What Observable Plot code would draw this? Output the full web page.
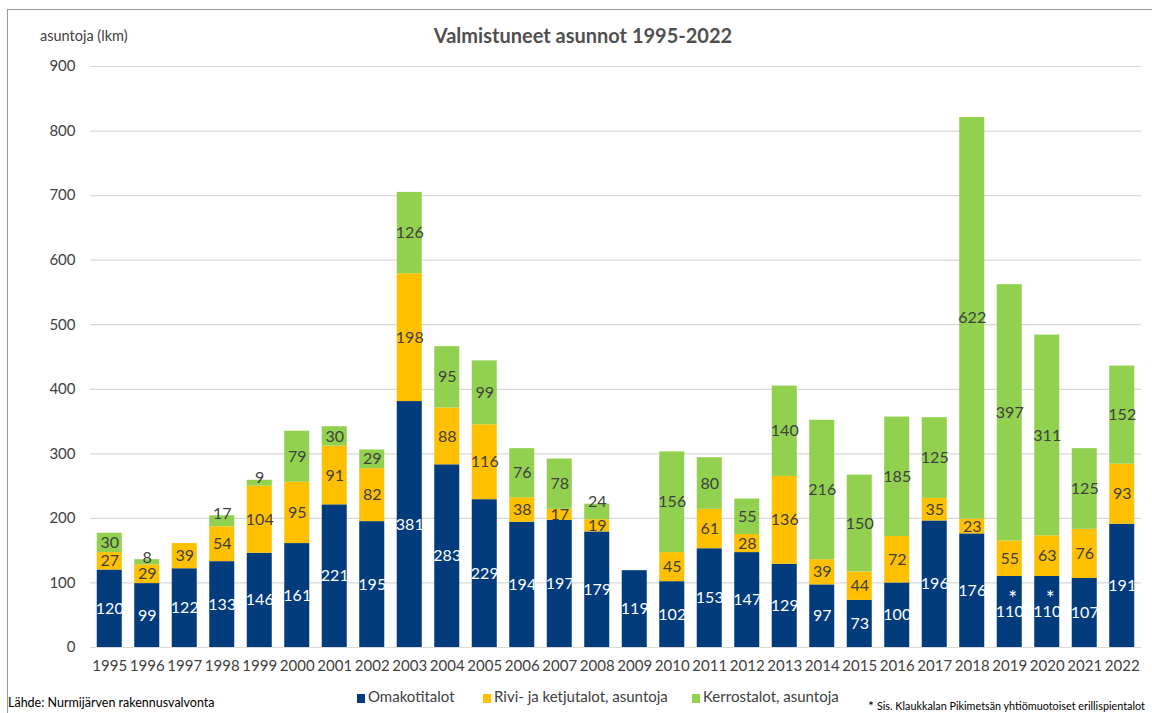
<!DOCTYPE html>
<html><head><meta charset="utf-8">
<script src="https://cdn.jsdelivr.net/npm/d3@7"></script>
<script src="https://cdn.jsdelivr.net/npm/@observablehq/plot@0.6"></script>
<style>
body{margin:0;background:#fff;font-family:Lato,"Open Sans",sans-serif;}
#wrap{position:relative;width:1152px;height:713px;overflow:hidden;background:#fff;}
#frame{position:absolute;left:7px;top:9px;width:1160px;height:720px;border:1px solid #9a9a9a;box-sizing:border-box;}
#chart{position:absolute;left:0;top:0;}
#title{position:absolute;top:23px;left:383px;width:400px;text-align:center;font-weight:bold;font-size:20px;color:#505050;white-space:nowrap;}
#ylab{position:absolute;top:27px;left:40px;font-size:14.5px;color:#404040;white-space:nowrap;}
#legend{position:absolute;top:687px;left:0;width:1152px;font-size:15px;color:#404040;}
.li{position:absolute;white-space:nowrap;}
.sw{display:inline-block;width:8px;height:9px;margin-right:3px;vertical-align:-1px;}
#src{position:absolute;top:695px;left:8px;font-size:12.5px;color:#000;white-space:nowrap;}
#note{position:absolute;top:697px;left:868px;font-size:10.8px;color:#000;white-space:nowrap;}
#note b{font-size:14px;font-weight:normal;vertical-align:-1px;margin-right:3px;}
</style></head>
<body>
<div id="wrap">
  <div id="frame"></div>
  <div id="chart"></div>
  <div id="title">Valmistuneet asunnot 1995-2022</div>
  <div id="ylab">asuntoja (lkm)</div>
  <div id="legend"></div>
  <div id="src">Lähde: Nurmijärven rakennusvalvonta</div>
  <div id="note"><b>*</b>Sis. Klaukkalan Pikimetsän yhtiömuotoiset erillispientalot</div>
</div>
<script>
const years = ["1995","1996","1997","1998","1999","2000","2001","2002","2003","2004","2005","2006","2007","2008","2009","2010","2011","2012","2013","2014","2015","2016","2017","2018","2019","2020","2021","2022"];
const seriesNames = ["Omakotitalot","Rivi- ja ketjutalot, asuntoja","Kerrostalot, asuntoja"];
const omakotitalot = [120,99,122,133,146,161,221,195,381,283,229,194,197,179,119,102,153,147,129,97,73,100,196,176,110,110,107,191];
const rivitalot    = [27,29,39,54,104,95,91,82,198,88,116,38,17,19,0,45,61,28,136,39,44,72,35,23,55,63,76,93];
const kerrostalot  = [30,8,0,17,9,79,30,29,126,95,99,76,78,24,0,156,80,55,140,216,150,185,125,622,397,311,125,152];
const colors = ["#023c7c","#ffc000","#92d050"];
const yTicks = [0,100,200,300,400,500,600,700,800,900];
const starYears = ["2019","2020"];

const seriesValues = [omakotitalot, rivitalot, kerrostalot];
const rows = [];
years.forEach((yr, i) => {
  let base = 0;
  seriesValues.forEach((vals, s) => {
    const v = vals[i];
    rows.push({year: yr, series: seriesNames[s], s, value: v, y1: base, y2: base + v, mid: base + v / 2});
    base += v;
  });
});
const labels = rows.filter(d => d.value > 0);
const inside = labels.filter(d => !(d.s === 2 && d.value < 25));
const onTop = labels.filter(d => d.s === 2 && d.value < 25);
const stars = rows.filter(d => d.s === 0 && starYears.includes(d.year));

const chart = Plot.plot({
  width: 1152,
  height: 680,
  marginTop: 66,
  marginBottom: 33,
  marginLeft: 90,
  marginRight: 11,
  style: {fontFamily: "Lato, 'Open Sans', sans-serif", fontSize: "15px", color: "#404040", background: "transparent"},
  x: {domain: years, paddingInner: 0.333, paddingOuter: 0.18, round: false, tickSize: 0, tickPadding: 13, label: null},
  y: {domain: [0, 900], ticks: yTicks, tickSize: 0, tickPadding: 15, label: null},
  color: {domain: seriesNames, range: colors},
  marks: [
    Plot.ruleY(yTicks, {stroke: "#d9d9d9", strokeWidth: 1.2}),
    Plot.barY(rows, {x: "year", y: "value", fill: "series", order: null}),
    Plot.text(inside, {x: "year", y: "mid", text: d => String(d.value), fill: d => d.s === 0 ? "#ffffff" : "#404040", fontSize: 16}),
    Plot.text(onTop, {x: "year", y: "y2", text: d => String(d.value), fill: "#404040", fontSize: 16, dy: -2}),
    Plot.text(stars, {x: "year", y: "mid", text: () => "*", fill: "#ffffff", fontSize: 21, dy: -13, dx: 3})
  ]
});
document.getElementById("chart").appendChild(chart);

const legendPos = [357, 483, 692];
const legend = document.getElementById("legend");
seriesNames.forEach((n, i) => {
  const el = document.createElement("div");
  el.className = "li";
  el.style.left = legendPos[i] + "px";
  el.innerHTML = `<span class="sw" style="background:${colors[i]}"></span>${n}`;
  legend.appendChild(el);
});
</script>
</body></html>
